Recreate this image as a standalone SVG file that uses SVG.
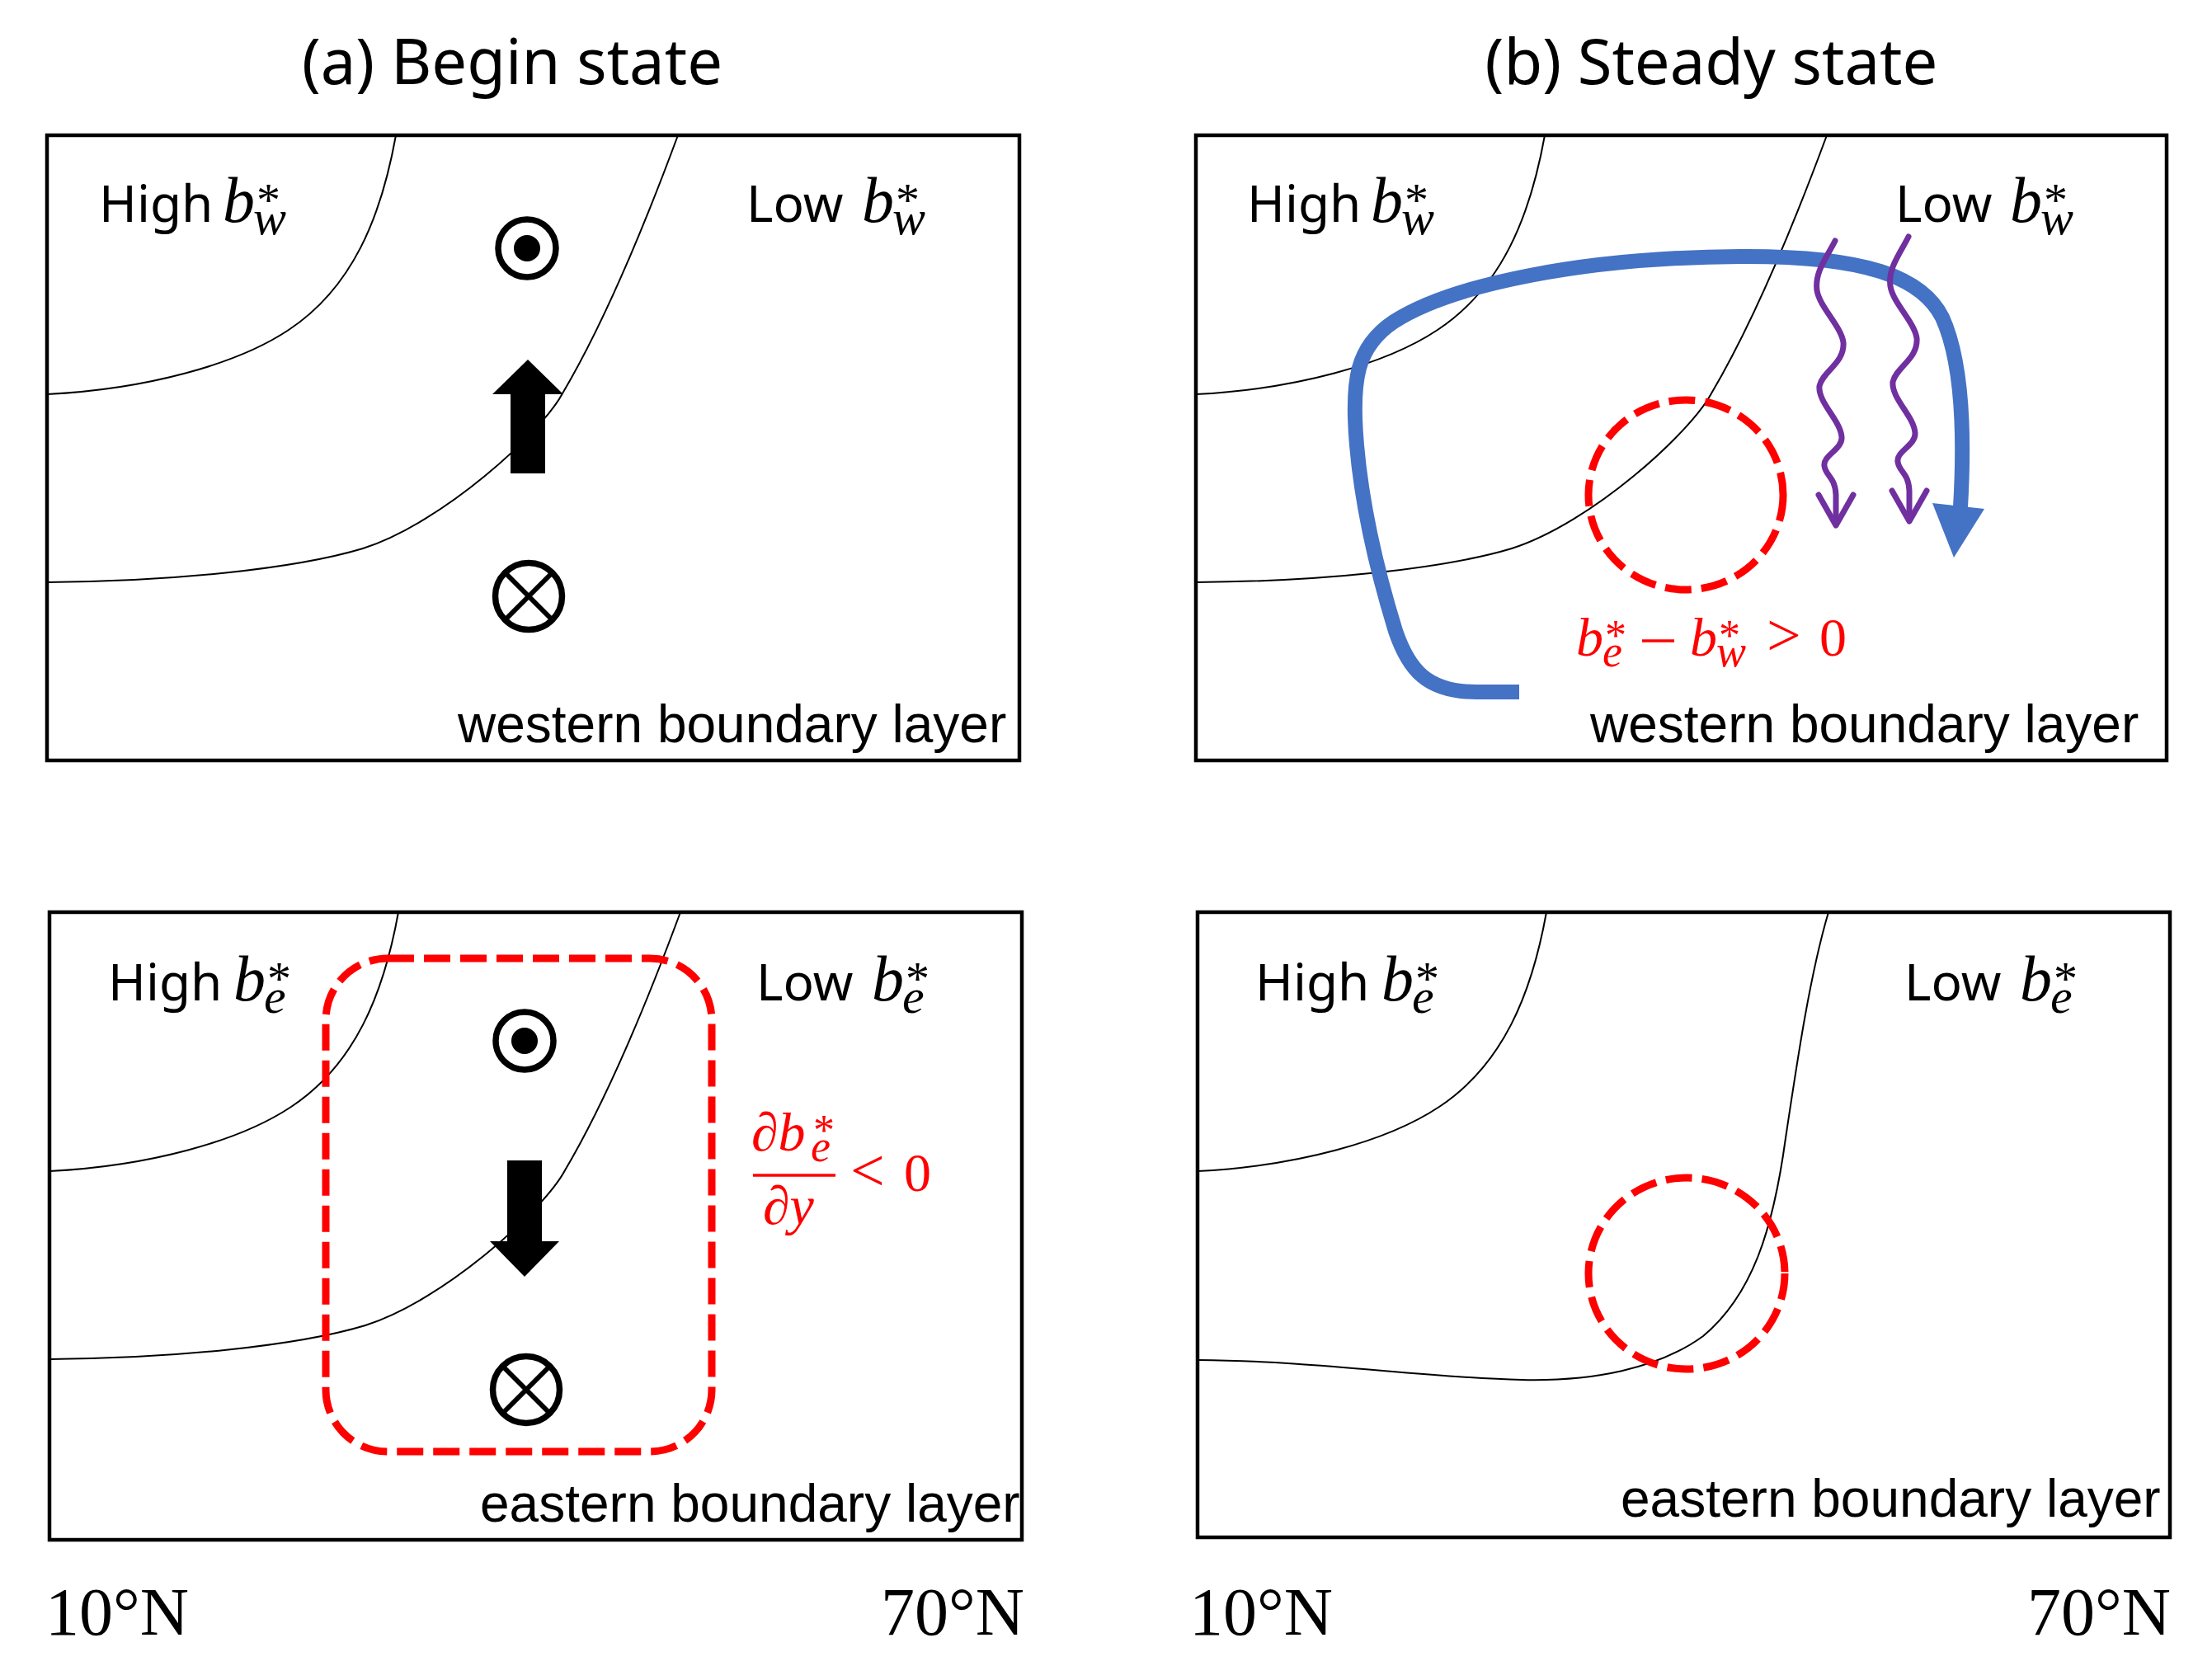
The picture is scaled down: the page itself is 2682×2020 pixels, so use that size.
<svg xmlns="http://www.w3.org/2000/svg" xmlns:xlink="http://www.w3.org/1999/xlink" width="2682" height="2020" viewBox="0 0 2682 2020">
<style>
.title{font-family:"Noto Sans","Open Sans",sans-serif;font-size:76px;fill:#000;text-anchor:middle}
.lbl{font-family:"Noto Sans","Open Sans",sans-serif;font-size:62px;fill:#000}
.bl{font-family:"Liberation Sans",Arial,sans-serif;font-size:64px;fill:#000}
.mi{font-family:"Liberation Serif","Times New Roman",serif;font-style:italic;font-size:78px;fill:#000}
.ms{font-family:"Liberation Serif","Times New Roman",serif;font-style:italic;font-size:60px;fill:#000}
.mr{font-family:"Liberation Serif","Times New Roman",serif;font-size:58px;fill:#000}
.ax{font-family:"Liberation Serif","Times New Roman",serif;font-size:82px;fill:#000}
.red{fill:#FF0000}
.iso{fill:none;stroke:#000;stroke-width:2}
.box{fill:none;stroke:#000;stroke-width:4.5}
.rd{fill:none;stroke:#FF0000;stroke-width:9;stroke-dasharray:32 12}
.ring{fill:none;stroke:#000;stroke-width:7.5}
.xl{stroke:#000;stroke-width:6}
.pur{fill:none;stroke:#7030A0;stroke-width:7;stroke-linecap:round;stroke-linejoin:round}
</style>
<defs>
<path id="c1" d="M423,0 C405,100 370,185 293,236 C230,278 120,308 0,314"/>
<path id="c2" d="M765,0 C728,100 680,220 625,313 C600,360 480,470 383,501 C300,526 150,541 0,542"/>
<g id="dot"><circle r="35" class="ring"/><circle r="16" fill="#000"/></g>
<g id="cross"><circle r="40.5" class="ring"/><line x1="-27" y1="-27" x2="27" y2="27" class="xl"/><line x1="-27" y1="27" x2="27" y2="-27" class="xl"/></g>
</defs>
<rect x="0" y="0" width="2682" height="2020" fill="#fff"/>

<text class="title" x="621" y="102">(a) Begin state</text>
<text class="title" x="2075" y="102">(b) Steady state</text>

<g id="panel-a-top">
<g transform="translate(57,164)"><use xlink:href="#c1" class="iso"/><use xlink:href="#c2" class="iso"/></g>
<rect class="box" x="57" y="164" width="1179" height="758"/>
<text class="lbl" x="120" y="269">High</text>
<text class="mi" x="270" y="269">b</text><text class="mr" x="311" y="262">*</text><text class="ms" x="307" y="284">w</text>
<text class="lbl" x="905" y="269">Low</text>
<text class="mi" x="1045" y="269">b</text><text class="mr" x="1086" y="262">*</text><text class="ms" x="1082" y="284">w</text>
<use xlink:href="#dot" x="639" y="301"/>
<polygon points="640,436 683,478 661,478 661,574 619,574 619,478 597,478" fill="#000"/>
<use xlink:href="#cross" x="641" y="723"/>
<text class="bl" x="555" y="900">western boundary layer</text>
</g>

<g id="panel-b-top">
<g transform="translate(1450,164)"><use xlink:href="#c1" class="iso"/><use xlink:href="#c2" class="iso"/></g>
<rect class="box" x="1450" y="164" width="1177" height="758"/>
<text class="lbl" x="1512" y="269">High</text>
<text class="mi" x="1662" y="269">b</text><text class="mr" x="1703" y="262">*</text><text class="ms" x="1699" y="284">w</text>
<text class="lbl" x="2298" y="269">Low</text>
<text class="mi" x="2437" y="269">b</text><text class="mr" x="2478" y="262">*</text><text class="ms" x="2474" y="284">w</text>
<ellipse class="rd" cx="2044" cy="600" rx="118" ry="115"/>
<g id="blue-flow">
<path d="M1842,839 L1790,839 C1730,839 1708,812 1692,765 C1672,700 1652,620 1645,540 C1638,460 1645,420 1690,390 C1760,345 1920,312 2110,311 C2260,310 2330,335 2355,385 C2380,440 2382,530 2377,615" fill="none" stroke="#4472C4" stroke-width="18"/>
<polygon points="2343,610 2406,617 2369,676" fill="#4472C4"/>
</g>
<g id="wavy-arrows">
<path class="pur" d="M2225,292 C2215,312 2200,330 2203,352 C2206,372 2232,395 2235,415 C2237,440 2210,450 2206,468 C2204,488 2232,510 2233,530 C2234,545 2210,552 2212,565 C2214,578 2225,578 2226,600 L2226,632"/>
<path class="pur" d="M2205,600 L2226,637 L2247,600"/>
<path class="pur" d="M2314,287 C2304,307 2289,325 2292,347 C2295,367 2321,390 2324,410 C2326,435 2299,445 2295,463 C2293,483 2321,505 2322,525 C2323,540 2299,547 2301,560 C2303,573 2314,573 2315,595 L2315,627"/>
<path class="pur" d="M2294,595 L2315,632 L2336,595"/>
</g>
<text class="mi red" x="1911" y="795" style="font-size:66px">b</text>
<text class="mr red" x="1946" y="788" style="font-size:52px">*</text>
<text class="ms red" x="1943" y="808" style="font-size:54px">e</text>
<line x1="1991" y1="777" x2="2030" y2="777" stroke="#FF0000" stroke-width="3.5"/>
<text class="mi red" x="2049" y="795" style="font-size:66px">b</text>
<text class="mr red" x="2084" y="788" style="font-size:52px">*</text>
<text class="ms red" x="2081" y="808" style="font-size:54px">w</text>
<text class="mr red" x="2142" y="795" style="font-size:74px">&gt;</text>
<text class="mr red" x="2206" y="795" style="font-size:66px">0</text>
<text class="bl" x="1928" y="900">western boundary layer</text>
</g>

<g id="panel-a-bottom">
<g transform="translate(60,1106)"><use xlink:href="#c1" class="iso"/><use xlink:href="#c2" class="iso"/></g>
<rect class="box" x="60" y="1106" width="1179" height="761"/>
<text class="lbl" x="131" y="1213">High</text>
<text class="mi" x="283" y="1213">b</text><text class="mr" x="324" y="1206">*</text><text class="ms" x="320" y="1228">e</text>
<text class="lbl" x="917" y="1213">Low</text>
<text class="mi" x="1057" y="1213">b</text><text class="mr" x="1098" y="1206">*</text><text class="ms" x="1094" y="1228">e</text>
<rect class="rd" x="395" y="1162" width="468" height="598" rx="75" ry="75"/>
<use xlink:href="#dot" x="636" y="1262"/>
<polygon points="615,1407 657,1407 657,1505 678,1505 636,1548 594,1505 615,1505" fill="#000"/>
<use xlink:href="#cross" x="638" y="1685"/>
<text class="mi red" x="911" y="1395" style="font-size:66px">∂b</text>
<text class="mr red" x="986" y="1388" style="font-size:52px">*</text>
<text class="ms red" x="983" y="1408" style="font-size:54px">e</text>
<line x1="913" y1="1425" x2="1013" y2="1425" stroke="#FF0000" stroke-width="3.5"/>
<text class="mi red" x="925" y="1484" style="font-size:66px">∂y</text>
<text class="mr red" x="1031" y="1444" style="font-size:74px">&lt;</text>
<text class="mr red" x="1096" y="1444" style="font-size:66px">0</text>
<text class="bl" x="582" y="1845">eastern boundary layer</text>
</g>

<g id="panel-b-bottom">
<g transform="translate(1452,1106)"><use xlink:href="#c1" class="iso"/>
<path class="iso" d="M765,0 C743,74 728,174 713,274 C698,384 673,464 613,514 C558,554 478,569 393,567 C268,564 148,544 0,543"/></g>
<rect class="box" x="1452" y="1106" width="1179" height="758"/>
<text class="lbl" x="1522" y="1213">High</text>
<text class="mi" x="1675" y="1213">b</text><text class="mr" x="1716" y="1206">*</text><text class="ms" x="1712" y="1228">e</text>
<text class="lbl" x="2309" y="1213">Low</text>
<text class="mi" x="2449" y="1213">b</text><text class="mr" x="2490" y="1206">*</text><text class="ms" x="2486" y="1228">e</text>
<ellipse class="rd" cx="2045" cy="1544" rx="119" ry="116"/>
<text class="bl" x="1965" y="1839">eastern boundary layer</text>
</g>

<g id="axis-labels">
<text class="ax" x="55" y="1982">10°N</text>
<text class="ax" x="1242" y="1982" text-anchor="end">70°N</text>
<text class="ax" x="1442" y="1982">10°N</text>
<text class="ax" x="2632" y="1982" text-anchor="end">70°N</text>
</g>
</svg>
